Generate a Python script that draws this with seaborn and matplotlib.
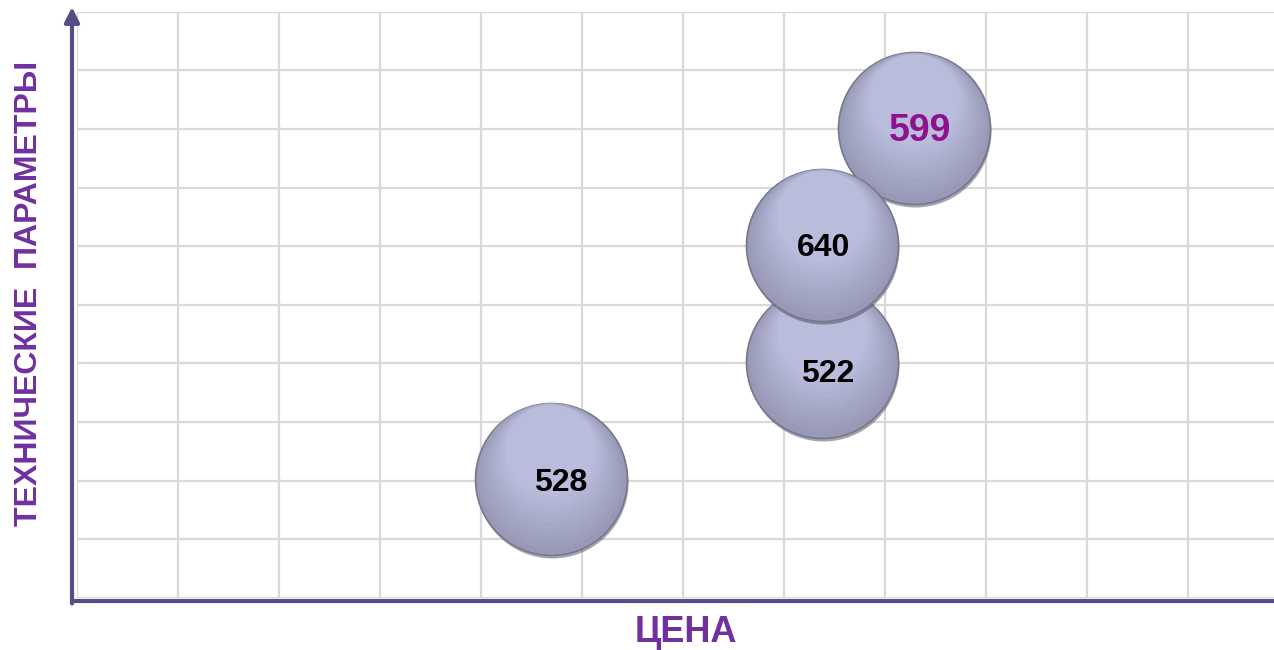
import pandas as pd
import numpy as np
import matplotlib.pyplot as plt
import seaborn as sns
from matplotlib.colors import to_rgb
from matplotlib.transforms import offset_copy

# bubble data (drawn in this order, later ones on top)
labels = ['528', '522', '599', '640']
price = [4.69, 7.38, 8.29, 7.38]
tech = [2.03, 4.03, 8.01, 6.02]

df = pd.DataFrame({'label': labels, 'price': price, 'tech': tech})

# label styling per bubble
label_colors = ['black', 'black', '#8f118f', 'black']
label_sizes = [23, 23, 27, 23]
label_offsets = [(7, -3), (4, -9), (4, -2), (1, -2)]  # points

sns.set_style('white')
plt.rcParams['font.family'] = ['Liberation Sans', 'DejaVu Sans']

axis_color = '#584c84'
title_color = '#7030a0'

fig = plt.figure(figsize=(12.74, 6.5), dpi=100)
ax = fig.add_axes([77 / 1274, 52 / 650, 1197 / 1274, 586.3 / 650])

ax.set_xlim(0, 1197 / 101)
ax.set_ylim(0, 10)
ax.set_xticks(range(12))
ax.set_yticks(range(11))
ax.tick_params(length=0, labelleft=False, labelbottom=False)
ax.grid(True, color='#d9d9d9', lw=1.6)
ax.set_axisbelow(True)
ax.set_xlabel('')
ax.set_ylabel('')
for s in ax.spines.values():
    s.set_visible(False)

# bubble diameter ~152 px
radius_px = 76
diam_pt = 2 * radius_px * 72 / 100

# fake vertical gradient: stacked circles, tops aligned
n_layers = 10
dark = np.array(to_rgb('#9799b6'))
light = np.array(to_rgb('#b9bcdb'))

for i, row in df.iterrows():
    z = 3 + i * 20
    sub = df.iloc[[i]]
    # shadow
    sns.scatterplot(data=sub, x='price', y='tech', s=diam_pt ** 2, color='#4a4a5e',
                    alpha=0.5, linewidth=0, ax=ax, legend=False, zorder=z)
    ax.collections[-1].set_offset_transform(
        offset_copy(ax.transData, fig=fig, x=1, y=-3, units='dots'))
    for k in range(n_layers):
        t = k / (n_layers - 1)
        r = radius_px * (1 - 0.4 * t)
        col = dark + (light - dark) * t
        sns.scatterplot(data=sub, x='price', y='tech', s=(2 * r * 72 / 100) ** 2,
                        color=col, edgecolor='#77788c' if k == 0 else 'none',
                        linewidth=1.2 if k == 0 else 0,
                        ax=ax, legend=False, zorder=z + 1 + k)
        ax.collections[-1].set_offset_transform(
            offset_copy(ax.transData, fig=fig, x=0, y=(radius_px - r) - 2 * t,
                        units='dots'))
    ax.annotate(row['label'], (row['price'], row['tech']),
                xytext=label_offsets[i], textcoords='offset points',
                ha='center', va='center', fontsize=label_sizes[i],
                fontweight='bold', color=label_colors[i], zorder=z + 15)

# axis lines with arrow on the vertical one
ax.plot([-5 / 1197, 1], [-3 / 586.3, -3 / 586.3], transform=ax.transAxes,
        color=axis_color, lw=3, clip_on=False, solid_capstyle='butt')
ax.annotate('', xy=(-5 / 1197, 1.008), xytext=(-5 / 1197, -5.5 / 586.3),
            xycoords='axes fraction', textcoords='axes fraction',
            arrowprops=dict(arrowstyle='-|>', color=axis_color, lw=3,
                            mutation_scale=22, shrinkA=0, shrinkB=0))

# axis titles
fig.text(686 / 1274, 1 - 633 / 650, 'ЦЕНА', fontsize=26, fontweight='bold',
         color=title_color, ha='center', va='center')
fig.text(29 / 1274, 1 - 293 / 650, 'ТЕХНИЧЕСКИЕ  ПАРАМЕТРЫ', fontsize=23,
         fontweight='bold', color=title_color, ha='center', va='center',
         rotation=90)

plt.savefig('out.png', dpi=100)
